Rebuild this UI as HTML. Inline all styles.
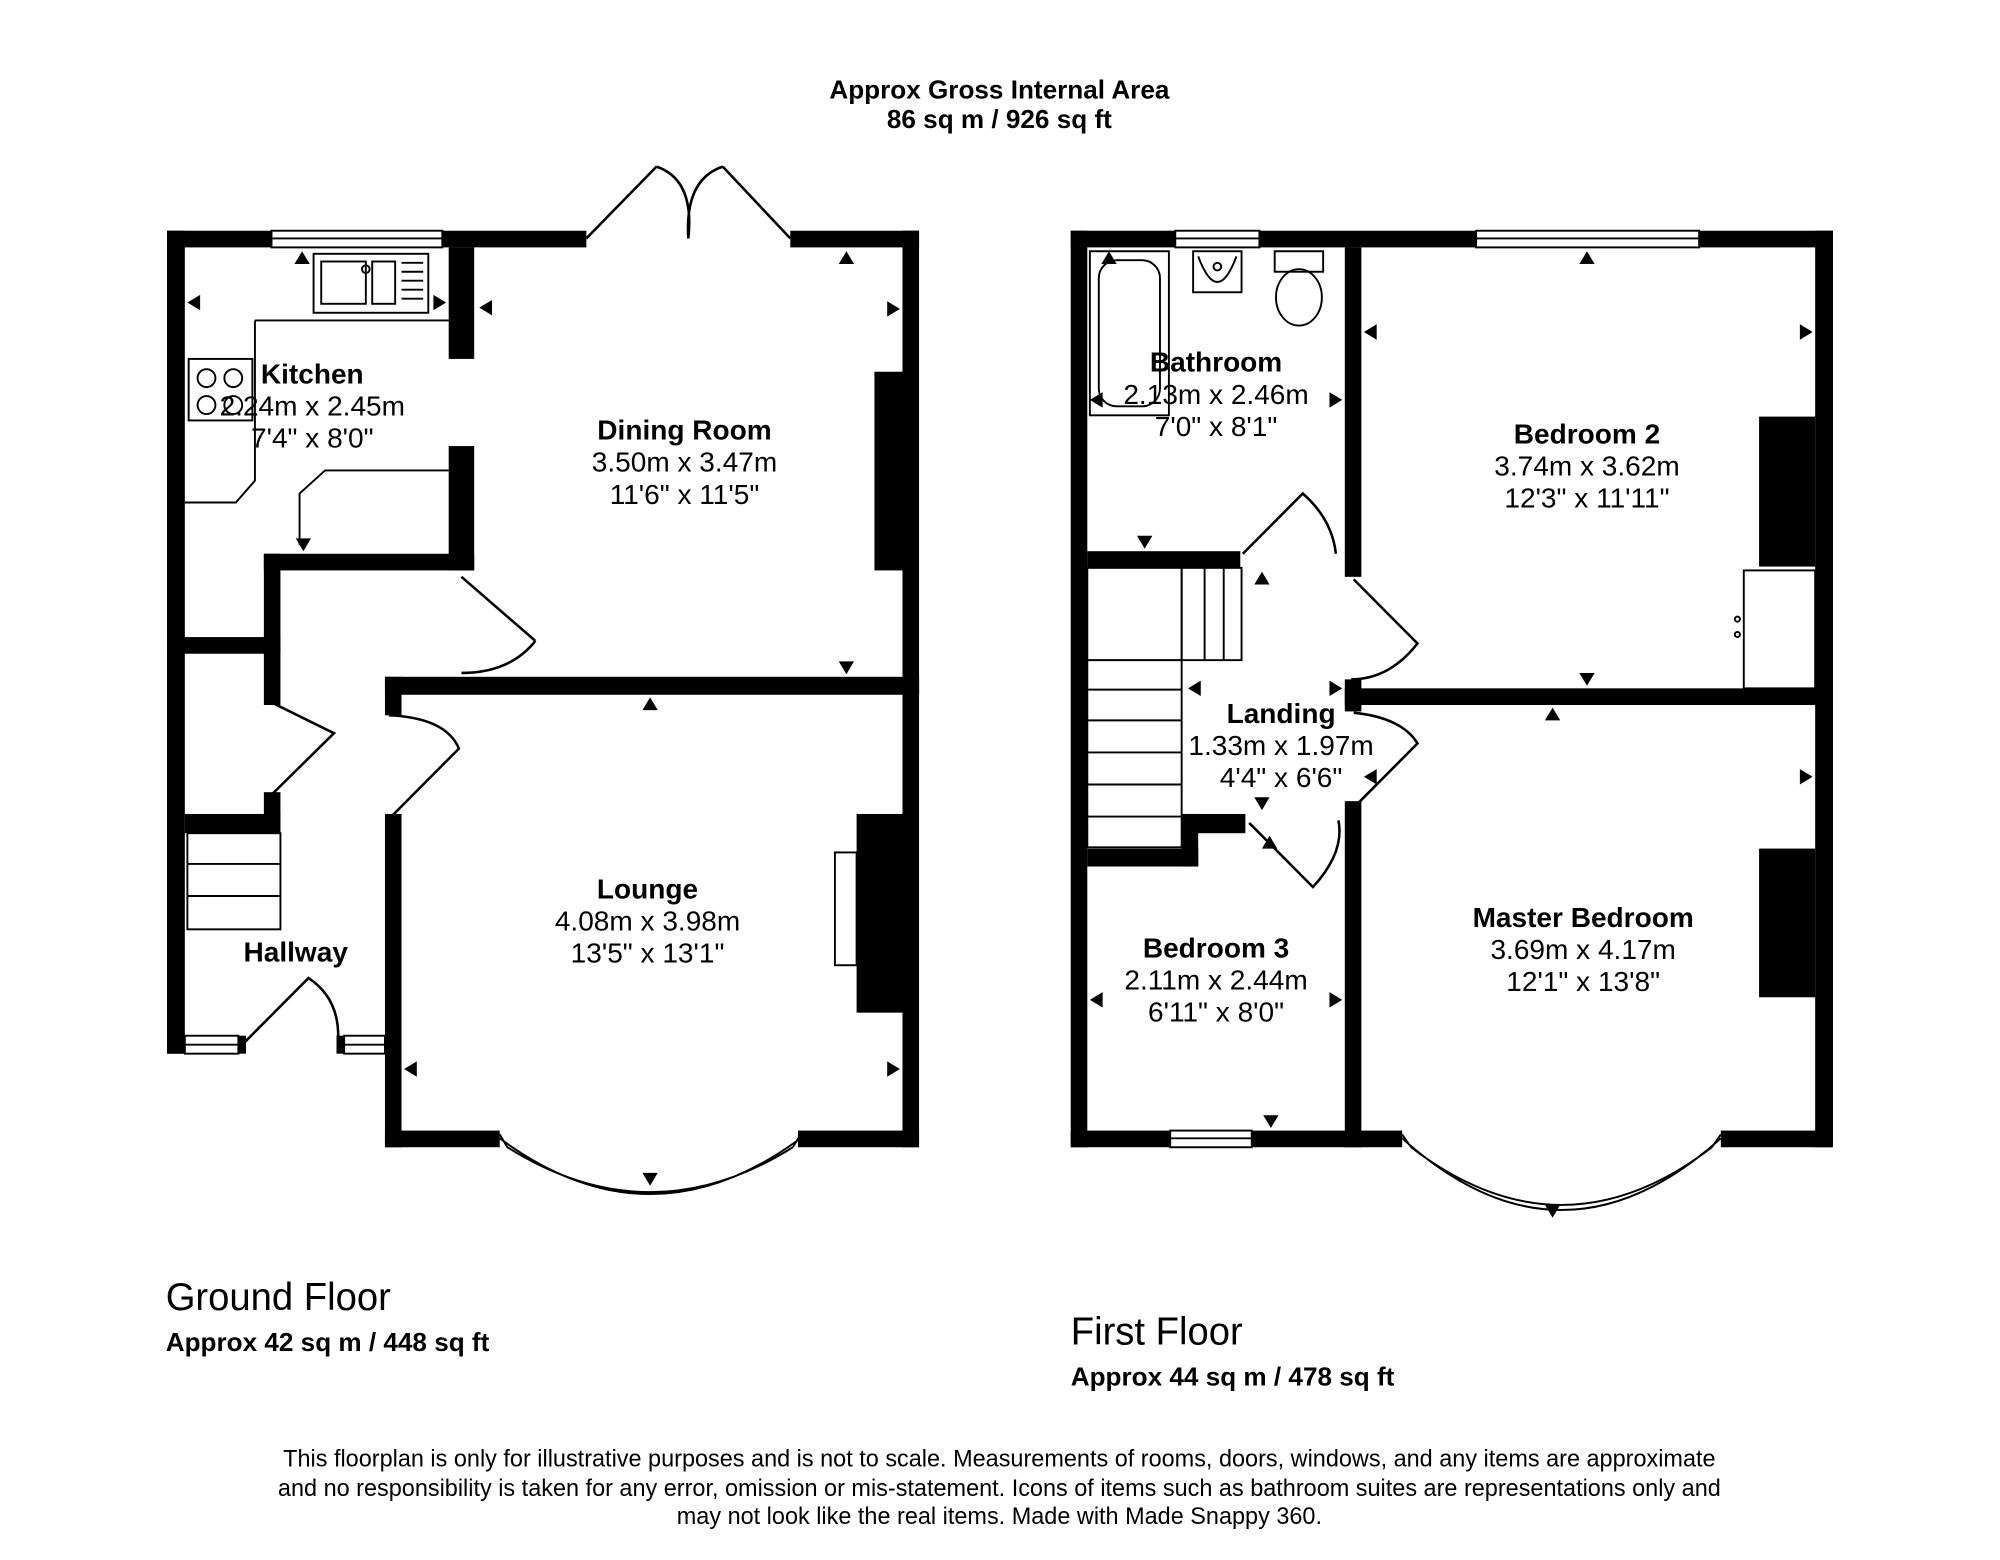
<!DOCTYPE html>
<html><head><meta charset="utf-8"><style>
html,body{margin:0;padding:0;background:#fff}
svg{display:block}
text{font-family:"Liberation Sans",Arial,sans-serif;fill:#000}
</style></head><body>
<svg width="2000" height="1560" viewBox="0 0 1569 1217" preserveAspectRatio="none" xmlns="http://www.w3.org/2000/svg">
<rect width="1569" height="1217" fill="#fff"/>
<g font-weight="bold" font-size="20.5" text-anchor="middle">
<text x="784" y="77">Approx Gross Internal Area</text>
<text x="784" y="100">86 sq m / 926 sq ft</text>
</g>
<g fill="#000">
<rect x="131" y="180" width="82" height="13"/>
<rect x="347" y="180" width="113" height="13"/>
<rect x="620" y="180" width="101" height="13"/>
<rect x="708" y="180" width="13" height="362"/>
<rect x="131" y="180" width="14" height="642"/>
<rect x="131" y="808" width="14" height="14"/>
<rect x="187" y="808" width="6" height="14"/>
<rect x="264" y="808" width="6" height="14"/>
<rect x="352" y="193" width="20" height="87"/>
<rect x="352" y="348" width="20" height="97"/>
<rect x="207" y="432" width="165" height="13"/>
<rect x="207" y="432" width="13" height="118"/>
<rect x="207" y="618" width="13" height="32"/>
<rect x="131" y="497" width="89" height="13"/>
<rect x="145" y="635" width="75" height="15"/>
<rect x="302" y="528" width="419" height="14"/>
<rect x="302" y="528" width="13" height="30"/>
<rect x="302" y="635" width="13" height="260"/>
<rect x="302" y="882" width="90" height="13"/>
<rect x="626" y="882" width="95" height="13"/>
<rect x="708" y="528" width="13" height="367"/>
<rect x="686" y="290" width="22" height="155"/>
<rect x="672" y="635" width="36" height="155"/>
</g>
<g fill="none" stroke="#000" stroke-width="1.5">
<rect x="213" y="180" width="134" height="13"/><line x1="213" y1="186" x2="347" y2="186"/>
<rect x="145" y="808" width="42" height="14"/><rect x="270" y="808" width="32" height="14"/>
<line x1="145" y1="815" x2="187" y2="815"/><line x1="270" y1="815" x2="302" y2="815"/>
<path d="M460 186 L515 130 M620 186 L567 130 M515 130 Q545 140 540 186 M567 130 Q537 140 540 186" stroke-width="2"/>
<path d="M392 888 Q510 975 628 888 M398 895 Q510 965 622 895 M392 885 L398 895 M628 885 L622 895"/>
<path d="M362 450 L420 500 M420 500 Q400 525 362 525" stroke-width="2"/>
<path d="M213 548 L262 572 L213 620 M262 572" stroke-width="2"/>
<path d="M308 636 L360 584 Q350 560 305 558" stroke-width="2"/>
<path d="M190 815 L242 763 Q268 780 265 815" stroke-width="2"/>
<rect x="147" y="650" width="73" height="75"/><line x1="147" y1="674" x2="220" y2="674"/><line x1="147" y1="699" x2="220" y2="699"/>
<path d="M200 250 L352 250 M200 250 L200 375 L185 392 L145 392 M352 367 L255 367 L235 385 L235 425"/>
<rect x="246" y="198" width="90" height="46"/><rect x="252" y="204" width="35" height="33"/><rect x="292" y="204" width="18" height="33"/>
<circle cx="287" cy="210" r="3"/>
<line x1="315" y1="205" x2="332" y2="205"/><line x1="315" y1="212" x2="332" y2="212"/><line x1="315" y1="219" x2="332" y2="219"/><line x1="315" y1="226" x2="332" y2="226"/><line x1="315" y1="233" x2="332" y2="233"/>
<rect x="148" y="280" width="50" height="48"/><circle cx="162" cy="295" r="7"/><circle cx="183" cy="295" r="7"/><circle cx="162" cy="316" r="7"/><circle cx="183" cy="316" r="7"/>
<rect x="655" y="665" width="17" height="88"/>
</g>
<g fill="#000">
<path d="M237 196 l-6 10 h12z"/><path d="M147 236 l10 -6 v12z"/><path d="M350 236 l-10 -6 v12z"/>
<path d="M376 240 l10 -6 v12z"/><path d="M664 196 l-6 10 h12z"/><path d="M706 241 l-10 -6 v12z"/>
<path d="M664 526 l-6 -10 h12z"/><path d="M510 544 l-6 10 h12z"/><path d="M238 430 l-6 -10 h12z"/>
<path d="M317 834 l10 -6 v12z"/><path d="M706 834 l-10 -6 v12z"/><path d="M510 925 l-6 -10 h12z"/>
</g>
<g font-size="22" text-anchor="middle">
<text x="245" y="299" font-weight="bold">Kitchen</text><text x="245" y="324">2.24m x 2.45m</text><text x="245" y="349">7'4" x 8'0"</text>
<text x="537" y="343" font-weight="bold">Dining Room</text><text x="537" y="368">3.50m x 3.47m</text><text x="537" y="393">11'6" x 11'5"</text>
<text x="508" y="701" font-weight="bold">Lounge</text><text x="508" y="726">4.08m x 3.98m</text><text x="508" y="751">13'5" x 13'1"</text>
<text x="232" y="750" font-weight="bold">Hallway</text>
</g>
<text x="130" y="1022" font-size="30">Ground Floor</text>
<text x="130" y="1054" font-size="20.5" font-weight="bold">Approx 42 sq m / 448 sq ft</text>
<g fill="#000">
<rect x="840" y="180" width="82" height="13"/><rect x="988" y="180" width="170" height="13"/><rect x="1333" y="180" width="105" height="13"/>
<rect x="840" y="180" width="13" height="715"/><rect x="1424" y="180" width="14" height="715"/>
<rect x="1055" y="193" width="13" height="257"/>
<rect x="853" y="430" width="120" height="13"/>
<rect x="1055" y="537" width="383" height="13"/>
<rect x="1055" y="530" width="13" height="25"/>
<rect x="1055" y="625" width="13" height="270"/>
<rect x="853" y="662" width="87" height="14"/>
<rect x="927" y="635" width="50" height="15"/>
<rect x="927" y="635" width="13" height="41"/>
<rect x="840" y="882" width="78" height="13"/><rect x="982" y="882" width="118" height="13"/><rect x="1350" y="882" width="88" height="13"/>
<rect x="1380" y="325" width="44" height="117"/><rect x="1380" y="662" width="44" height="116"/>
</g>
<g fill="none" stroke="#000" stroke-width="1.5">
<rect x="922" y="180" width="66" height="13"/><line x1="922" y1="186" x2="988" y2="186"/>
<rect x="1158" y="180" width="175" height="13"/><line x1="1158" y1="186" x2="1333" y2="186"/>
<rect x="918" y="882" width="64" height="13"/><line x1="918" y1="888" x2="982" y2="888"/>
<path d="M1100 888 Q1225 1000 1350 888 M1107 895 Q1225 985 1343 895 M1100 885 L1107 895 M1350 885 L1343 895"/>
<rect x="855" y="196" width="62" height="128"/><rect x="862" y="203" width="48" height="114" rx="14"/>
<rect x="936" y="196" width="38" height="32"/><path d="M940 200 Q955 240 970 200"/><circle cx="955" cy="208" r="3"/>
<rect x="1000" y="196" width="38" height="16"/><ellipse cx="1019" cy="232" rx="18" ry="22"/>
<rect x="853" y="443" width="74" height="218"/>
<line x1="853" y1="515" x2="927" y2="515"/><line x1="853" y1="538" x2="927" y2="538"/><line x1="853" y1="562" x2="927" y2="562"/><line x1="853" y1="587" x2="927" y2="587"/><line x1="853" y1="612" x2="927" y2="612"/><line x1="853" y1="637" x2="927" y2="637"/>
<rect x="927" y="443" width="47" height="72"/><line x1="945" y1="443" x2="945" y2="515"/><line x1="960" y1="443" x2="960" y2="515"/>
<path d="M975 432 L1022 385 Q1045 405 1048 432" stroke-width="2"/>
<path d="M1062 452 L1112 502 Q1090 530 1060 530" stroke-width="2"/>
<path d="M1062 556 Q1100 560 1112 580 L1062 630" stroke-width="2"/>
<path d="M980 642 L1030 692 Q1055 665 1050 640" stroke-width="2"/>
<rect x="1368" y="445" width="56" height="92"/><circle cx="1363" cy="483" r="2"/><circle cx="1363" cy="495" r="2"/>
</g>
<g fill="#000">
<path d="M870 196 l-6 10 h12z"/><path d="M1245 196 l-6 10 h12z"/>
<path d="M855 312 l10 -6 v12z"/><path d="M1053 312 l-10 -6 v12z"/><path d="M898 428 l-6 -10 h12z"/>
<path d="M1070 259 l10 -6 v12z"/><path d="M1422 259 l-10 -6 v12z"/><path d="M1245 535 l-6 -10 h12z"/>
<path d="M990 446 l-6 10 h12z"/><path d="M932 537 l10 -6 v12z"/><path d="M1053 537 l-10 -6 v12z"/>
<path d="M1218 552 l-6 10 h12z"/><path d="M1422 606 l-10 -6 v12z"/><path d="M1070 606 l10 -6 v12z"/>
<path d="M990 632 l-6 -10 h12z"/><path d="M996 652 l-6 10 h12z"/>
<path d="M855 780 l10 -6 v12z"/><path d="M1053 780 l-10 -6 v12z"/><path d="M997 880 l-6 -10 h12z"/>
<path d="M1218 950 l-6 -10 h12z"/>
</g>
<g font-size="22" text-anchor="middle">
<text x="954" y="290" font-weight="bold">Bathroom</text><text x="954" y="315">2.13m x 2.46m</text><text x="954" y="340">7'0" x 8'1"</text>
<text x="1245" y="346" font-weight="bold">Bedroom 2</text><text x="1245" y="371">3.74m x 3.62m</text><text x="1245" y="396">12'3" x 11'11"</text>
<text x="1005" y="564" font-weight="bold">Landing</text><text x="1005" y="589">1.33m x 1.97m</text><text x="1005" y="614">4'4" x 6'6"</text>
<text x="954" y="747" font-weight="bold">Bedroom 3</text><text x="954" y="772">2.11m x 2.44m</text><text x="954" y="797">6'11" x 8'0"</text>
<text x="1242" y="723" font-weight="bold">Master Bedroom</text><text x="1242" y="748">3.69m x 4.17m</text><text x="1242" y="773">12'1" x 13'8"</text>
</g>
<text x="840" y="1049" font-size="30">First Floor</text>
<text x="840" y="1081" font-size="20.5" font-weight="bold">Approx 44 sq m / 478 sq ft</text>
<g font-size="18.4" text-anchor="middle">
<text x="784" y="1144">This floorplan is only for illustrative purposes and is not to scale. Measurements of rooms, doors, windows, and any items are approximate</text>
<text x="784" y="1167">and no responsibility is taken for any error, omission or mis-statement. Icons of items such as bathroom suites are representations only and</text>
<text x="784" y="1189">may not look like the real items. Made with Made Snappy 360.</text>
</g>
</svg>
</body></html>
